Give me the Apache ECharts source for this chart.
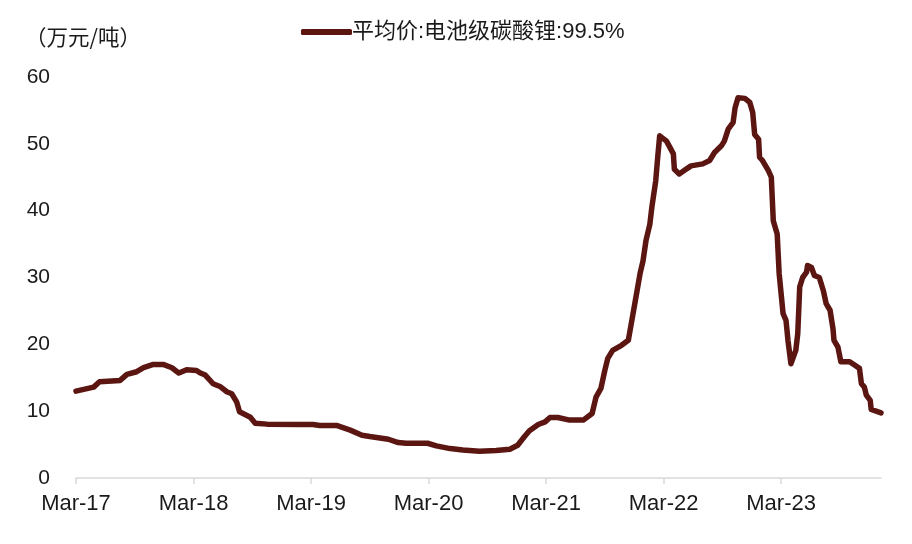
<!DOCTYPE html>
<html>
<head>
<meta charset="utf-8">
<script src="https://cdn.jsdelivr.net/npm/echarts@6/dist/echarts.min.js"></script>
<style>
html,body{margin:0;padding:0;background:#fff;}
#chart{width:912px;height:544px;}
</style>
</head>
<body>
<div id="chart"></div>
<script>
// x = months since Mar-2017
var months = [0, 1.8, 2.4, 4.5, 5.2, 6.2, 6.9, 7.9, 8.9, 9.8, 10.5, 11.3, 12.3, 12.7, 13.2, 14.0, 14.7, 15.4, 15.9, 16.4, 16.7, 17.8, 18.3, 19.5, 22.9, 24.2, 24.9, 26.6, 28.0, 29.2, 30.0, 31.9, 32.9, 33.7, 35.9, 36.8, 38.2, 39.5, 41.2, 42.9, 44.3, 45.1, 45.8, 46.3, 47.2, 47.9, 48.4, 49.2, 50.4, 51.8, 52.7, 53.1, 53.6, 54.0, 54.3, 54.8, 55.7, 56.4, 56.7, 57.0, 57.6, 57.9, 58.2, 58.6, 58.8, 59.2, 59.4, 59.6, 60.3, 61.0, 61.1, 61.6, 62.1, 62.8, 64.0, 64.7, 65.2, 65.9, 66.2, 66.6, 67.1, 67.3, 67.6, 68.3, 68.8, 69.1, 69.3, 69.7, 69.8, 70.1, 70.7, 71.0, 71.2, 71.6, 71.8, 72.2, 72.5, 72.7, 73.0, 73.5, 73.7, 73.9, 74.2, 74.6, 74.7, 75.1, 75.4, 75.9, 76.3, 76.6, 77.0, 77.3, 77.4, 77.8, 78.1, 79.0, 79.5, 80.0, 80.2, 80.5, 80.7, 81.1, 81.2, 81.7, 82.2];
var prices = [13.0, 13.6, 14.4, 14.6, 15.5, 15.9, 16.5, 17.0, 17.0, 16.5, 15.7, 16.2, 16.1, 15.7, 15.4, 14.1, 13.7, 12.9, 12.6, 11.4, 9.9, 9.1, 8.2, 8.06, 8.0, 8.0, 7.86, 7.86, 7.16, 6.4, 6.2, 5.8, 5.3, 5.2, 5.2, 4.8, 4.4, 4.2, 4.0, 4.1, 4.3, 4.9, 6.2, 7.06, 8.0, 8.4, 9.06, 9.06, 8.66, 8.66, 9.65, 12.1, 13.4, 16.1, 17.9, 19.1, 19.85, 20.6, 23.1, 25.6, 30.6, 32.5, 35.5, 38.0, 40.5, 44.5, 48.0, 51.2, 50.4, 48.5, 46.2, 45.5, 46.0, 46.7, 47.0, 47.5, 48.7, 49.7, 50.4, 52.2, 53.2, 55.4, 56.9, 56.8, 56.2, 54.7, 51.4, 50.7, 48.0, 47.5, 46.0, 45.0, 38.5, 36.5, 30.6, 24.6, 23.6, 20.6, 17.1, 19.1, 21.6, 28.6, 30.0, 30.8, 31.8, 31.5, 30.3, 30.0, 28.1, 26.1, 25.1, 22.3, 20.6, 19.6, 17.4, 17.4, 16.9, 16.4, 14.1, 13.6, 12.4, 11.6, 10.25, 10.0, 9.75];
var tickMonths = [0, 12, 24, 36, 48, 60, 72];
var tickLabels = ['Mar-17', 'Mar-18', 'Mar-19', 'Mar-20', 'Mar-21', 'Mar-22', 'Mar-23'];
var yTicks = [0, 10, 20, 30, 40, 50, 60];
var seriesName = '平均价:电池级碳酸锂:99.5%';
var unitLabel = '（万元/吨）';

var data = months.map(function (m, i) { return [m, prices[i]]; });
var fontLatin = '"Liberation Sans", Arial, "Noto Sans CJK SC", sans-serif';
var fontCJK = '"Liberation Sans", "Noto Sans CJK SC", sans-serif';
var fontUnit = '"Noto Sans CJK SC", sans-serif';
var lineColor = '#5c1612';

var chart = echarts.init(document.getElementById('chart'), null, {renderer: 'canvas'});
chart.setOption({
  animation: false,
  backgroundColor: '#ffffff',
  grid: {left: 76, right: 31, top: 77, bottom: 66, containLabel: false},
  title: {
    text: unitLabel,
    left: 20, top: 21,
    textStyle: {fontFamily: fontUnit, fontSize: 21.5, fontWeight: 'normal', color: '#1a1a1a'}
  },
  legend: {
    data: [seriesName],
    left: 296, top: 16,
    icon: 'roundRect',
    itemWidth: 51, itemHeight: 6, itemGap: 5,
    textStyle: {fontFamily: fontCJK, fontSize: 22, color: '#1a1a1a', padding: [0, 0, 0, -5]}
  },
  xAxis: {
    type: 'value',
    min: 0, max: 82.2, interval: 12,
    splitLine: {show: false},
    axisLine: {show: true, lineStyle: {color: '#d9d9d9', width: 1.5}},
    axisTick: {show: true, length: 6, customValues: tickMonths, lineStyle: {color: '#d9d9d9', width: 1.5}},
    axisLabel: {
      customValues: tickMonths,
      margin: 15,
      fontFamily: fontLatin, fontSize: 22, color: '#1a1a1a',
      formatter: function (v) {
        var idx = tickMonths.indexOf(Math.round(v));
        return idx >= 0 ? tickLabels[idx] : '';
      }
    }
  },
  yAxis: {
    type: 'value',
    min: 0, max: 60, interval: 10,
    splitLine: {show: false},
    axisLine: {show: false},
    axisTick: {show: false},
    axisLabel: {
      margin: 26,
      fontFamily: fontLatin, fontSize: 21, color: '#1a1a1a',
      formatter: function (v) { return yTicks.indexOf(v) >= 0 ? String(v) : ''; }
    }
  },
  series: [{
    name: seriesName,
    type: 'line',
    data: data,
    symbol: 'none',
    smooth: false,
    lineStyle: {color: lineColor, width: 5.5, join: 'round', cap: 'round'},
    itemStyle: {color: lineColor}
  }]
});
</script>
</body>
</html>
